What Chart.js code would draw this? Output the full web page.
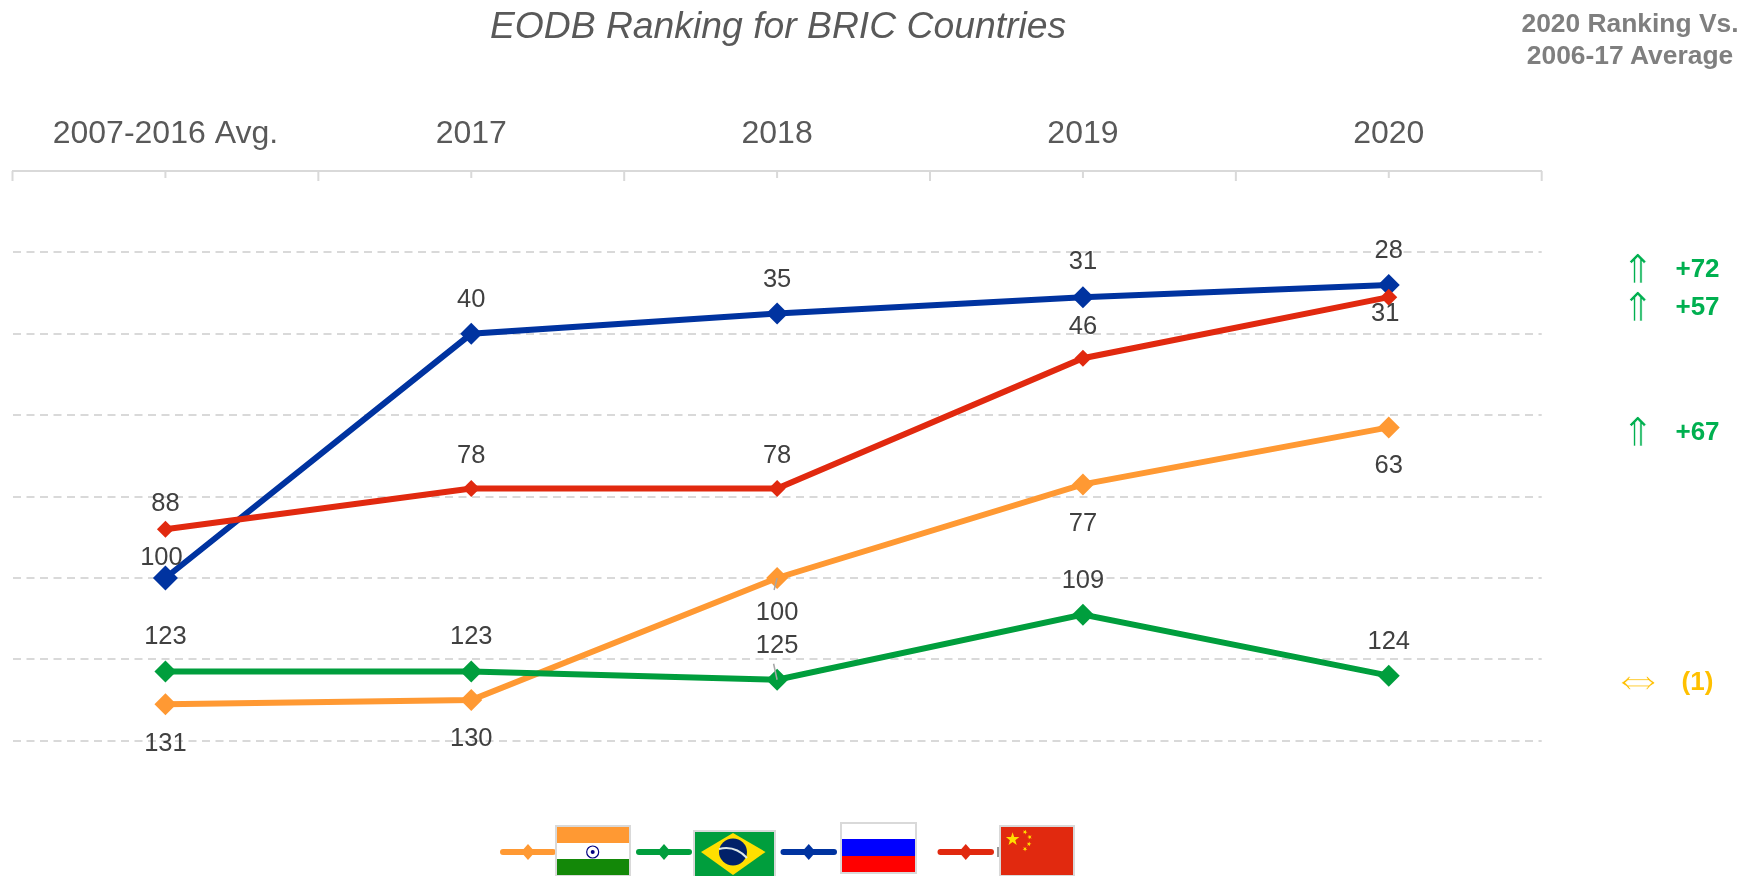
<!DOCTYPE html>
<html>
<head>
<meta charset="utf-8">
<title>EODB Ranking for BRIC Countries</title>
<script src="https://cdn.jsdelivr.net/npm/chart.js@4/dist/chart.umd.min.js"></script>
<style>
  html, body { margin: 0; padding: 0; background: #fff; overflow: hidden; }
  #wrap { position: relative; width: 1760px; height: 876px; font-family: "Liberation Sans", Arial, sans-serif; }
  #wrap canvas { position: absolute; left: 0; top: 0; }
  .title { position: absolute; left: 778px; top: 25px; transform: translate(-50%, -50%); font-size: 37.3px; font-style: italic; color: #595959; white-space: nowrap; }
  .side-head { position: absolute; left: 1630px; top: 7px; width: 260px; margin-left: -130px; text-align: center; font-size: 26.4px; line-height: 32px; font-weight: bold; color: #7f7f7f; }
  .note { position: absolute; transform: translate(-50%, -50%); white-space: nowrap; }
  /* white outline thins the heavy arrow glyphs */
  .note.arrow { font-family: "DejaVu Sans Light", "DejaVu Sans", sans-serif; font-weight: 200; -webkit-text-stroke: 0.7px #fff; }
  .note.delta { font-size: 26px; font-weight: bold; }
  #legend { position: absolute; left: 0; top: 0; }
</style>
</head>
<body>
<div id="wrap">
  <canvas id="chart" width="1760" height="876"></canvas>
  <div class="title">EODB Ranking for BRIC Countries</div>
  <div class="side-head">2020 Ranking Vs.<br>2006-17 Average</div>
  <svg id="legend" width="1760" height="876"></svg>
</div>
<script>
const categories = ["2007-2016 Avg.", "2017", "2018", "2019", "2020"];
const india  = [131, 130, 100, 77, 63];
const brazil = [123, 123, 125, 109, 124];
const russia = [100, 40, 35, 31, 28];
const china  = [88, 78, 78, 46, 31];
const rankTicks = [0, 20, 40, 60, 80, 100, 120, 140];

// right-hand change column
const noteArrows = ["⇑", "⇑", "⇑", "⇔"];
const noteDeltas = ["+72", "+57", "+67", "(1)"];
const noteRows = [268, 306, 431, 681];
const noteColors = ["#00b050", "#00b050", "#00b050", "#ffc000"];
const noteArrowRows = [269, 307, 432, 676];
const noteArrowSizes = [40, 40, 40, 56];

const ORANGE = "#ff9933", GREEN = "#009e3d", BLUE = "#0033a0", RED = "#e1290f";

// value label offsets from the point, [dx, dy] per point
const labelOffsets = {
  India:  [[0, 40], [0, 39], [0, 35], [0, 39.5], [0, 39]],
  Brazil: [[0, -34.5], [0, -34.5], [0, -34], [0, -34], [0, -34]],
  Russia: [[-4, -20], [0, -34], [0, -33], [0, -35], [0, -34]],
  China:  [[0, -25], [0, -32], [0, -32], [0, -31], [-3.5, 17]],
};

/* ---- draws the rank next to each point, plus the two small leader lines ---- */
const valueLabels = {
  id: "valueLabels",
  afterDatasetsDraw(chart) {
    const ctx = chart.ctx;
    ctx.save();
    ctx.font = '25.5px "Liberation Sans"';
    ctx.fillStyle = "#404040";
    ctx.textAlign = "center";
    ctx.textBaseline = "middle";
    chart.data.datasets.forEach((ds, i) => {
      chart.getDatasetMeta(i).data.forEach((pt, j) => {
        const off = labelOffsets[ds.label][j];
        ctx.fillText(ds.data[j], pt.x + off[0], pt.y + off[1]);
      });
    });
    // leaders for the two labels sitting close together over 2018
    const leader = (dsIndex, ptIndex, dx, dy) => {
      const pt = chart.getDatasetMeta(dsIndex).data[ptIndex];
      ctx.beginPath();
      ctx.moveTo(pt.x, pt.y);
      ctx.lineTo(pt.x + dx, pt.y + dy);
      ctx.strokeStyle = "#a6a6a6";
      ctx.lineWidth = 1.5;
      ctx.stroke();
    };
    leader(0, 2, -3, 12);
    leader(1, 2, -3.5, -16);
    ctx.restore();
  },
};

/* ---- ticks hang below the axis line: long at band edges, short at centres ---- */
const hangingTicks = {
  id: "hangingTicks",
  afterDraw(chart) {
    const x = chart.scales.x, ctx = chart.ctx;
    const band = x.getPixelForValue(1) - x.getPixelForValue(0);
    const tick = (px, len) => {
      ctx.beginPath();
      ctx.moveTo(px, x.bottom);
      ctx.lineTo(px, x.bottom + len);
      ctx.stroke();
    };
    ctx.save();
    ctx.strokeStyle = "#d9d9d9";
    ctx.lineWidth = 2;
    categories.forEach((c, i) => {
      const px = x.getPixelForValue(i);
      tick(px - band / 2, 10);
      tick(px, 7);
    });
    tick(x.getPixelForValue(categories.length - 1) + band / 2, 10);
    ctx.restore();
  },
};

const series = (label, data, color, radius, order) => ({
  label, data, order,
  borderColor: color, backgroundColor: color,
  borderWidth: 6, tension: 0, borderCapStyle: "round",
  pointStyle: "rectRot", pointRadius: radius, pointHoverRadius: radius,
  pointBorderWidth: 0,
});

new Chart(document.getElementById("chart"), {
  type: "line",
  data: {
    labels: categories,
    datasets: [
      series("India", india, ORANGE, 11, 4),
      series("Brazil", brazil, GREEN, 11, 3),
      series("Russia", russia, BLUE, c => c.dataIndex === 0 ? 12.5 : 11, 2),
      series("China", china, RED, 8.5, 1),
    ],
  },
  options: {
    responsive: false, animation: false, devicePixelRatio: 1,
    layout: { padding: { left: 11.2, right: 218.3, top: 100, bottom: 135.2 } },
    plugins: { legend: { display: false }, title: { display: false }, tooltip: { enabled: false } },
    scales: {
      x: {
        position: "top", offset: true,
        // the wide first label must not push the plot area in
        afterFit: s => { s.height = 71; s.paddingLeft = 0; s.paddingRight = 0; },
        border: { display: true, color: "#d9d9d9", width: 2 },
        grid: { offset: true, drawOnChartArea: false, drawTicks: false },
        ticks: { color: "#595959", padding: 17.5, maxRotation: 0, font: { family: "Liberation Sans", size: 32 } },
      },
      y: {
        reverse: true, min: 0, max: 140,
        afterBuildTicks: s => { s.ticks = rankTicks.map(value => ({ value })); },
        afterFit: s => { s.width = 0; },
        border: { display: false, dash: [8, 5.5] },
        grid: { drawTicks: false, lineWidth: 2, color: c => c.tick.value === 0 ? "transparent" : "#d9d9d9" },
        ticks: { display: false },
      },
    },
  },
  plugins: [valueLabels, hangingTicks],
});

/* ---- change column ---- */
const wrap = document.getElementById("wrap");
noteRows.forEach((top, i) => {
  const arrow = document.createElement("div");
  arrow.className = "note arrow";
  arrow.textContent = noteArrows[i];
  arrow.style.cssText = `left:1638px;top:${noteArrowRows[i]}px;color:${noteColors[i]};font-size:${noteArrowSizes[i]}px`;
  wrap.appendChild(arrow);
  const delta = document.createElement("div");
  delta.className = "note delta";
  delta.textContent = noteDeltas[i];
  delta.style.cssText = `left:1697.5px;top:${top}px;color:${noteColors[i]}`;
  wrap.appendChild(delta);
});

/* ---- legend: line sample with diamond, followed by a small flag ---- */
function star(cx, cy, r, rot) {
  let p = [];
  for (let k = 0; k < 10; k++) {
    const rad = k % 2 ? r * 0.4 : r, a = -Math.PI / 2 + (rot || 0) + k * Math.PI / 5;
    p.push((cx + rad * Math.cos(a)).toFixed(1) + "," + (cy + rad * Math.sin(a)).toFixed(1));
  }
  return `<polygon points="${p.join(" ")}" fill="#ffde00"/>`;
}
const sample = (x1, x2, color) => {
  const m = (x1 + x2) / 2;
  return `<line x1="${x1 + 3}" y1="852" x2="${x2 - 3}" y2="852" stroke="${color}" stroke-width="6" stroke-linecap="round"/>` +
    `<polygon points="${m - 7},852 ${m},844 ${m + 7},852 ${m},860" fill="${color}"/>`;
};
const FRAME = `fill="none" stroke="#d9d9d9" stroke-width="2"`;

document.getElementById("legend").innerHTML =
  sample(500, 556, ORANGE) +
  `<rect x="556" y="826" width="74" height="17" fill="${ORANGE}"/><rect x="556" y="843" width="74" height="17" fill="#fff"/>` +
  `<rect x="556" y="859" width="74" height="17" fill="#138808"/><circle cx="592.7" cy="852" r="6" fill="#fff" stroke="#000080" stroke-width="1.2"/><circle cx="592.7" cy="852" r="2" fill="#000080"/>` +
  `<rect x="556" y="826" width="74" height="50" ${FRAME}/>` +
  sample(636, 692, GREEN) +
  `<rect x="694" y="831" width="81" height="46" fill="${GREEN}"/><polygon points="701,852 733,833 765.5,852 733,875" fill="#ffdf00"/>` +
  `<ellipse cx="733" cy="852" rx="14" ry="13.5" fill="#012169"/><path d="M719,849 Q735,845 747,858" fill="none" stroke="#dfe8e8" stroke-width="2"/>` +
  `<rect x="694" y="831" width="81" height="46" ${FRAME}/>` +
  sample(780.5, 837, BLUE) +
  `<rect x="841" y="823" width="75" height="16" fill="#fff"/><rect x="841" y="839" width="75" height="17" fill="#0000ff"/><rect x="841" y="856" width="75" height="17" fill="#ff0000"/>` +
  `<rect x="841" y="823" width="75" height="50" ${FRAME}/>` +
  sample(937.5, 994, RED) +
  `<rect x="997" y="847" width="2" height="10" fill="#999"/>` +
  `<rect x="1000" y="826" width="74" height="50" fill="${RED}"/>` +
  star(1012.6, 839.3, 7) + star(1025, 832, 2.5, 0.4) + star(1029.6, 837, 2.5, 0.9) + star(1029, 844, 2.5, 0.2) + star(1025, 849, 2.5, 0.6) +
  `<rect x="1000" y="826" width="74" height="50" ${FRAME}/>`;
</script>
</body>
</html>
